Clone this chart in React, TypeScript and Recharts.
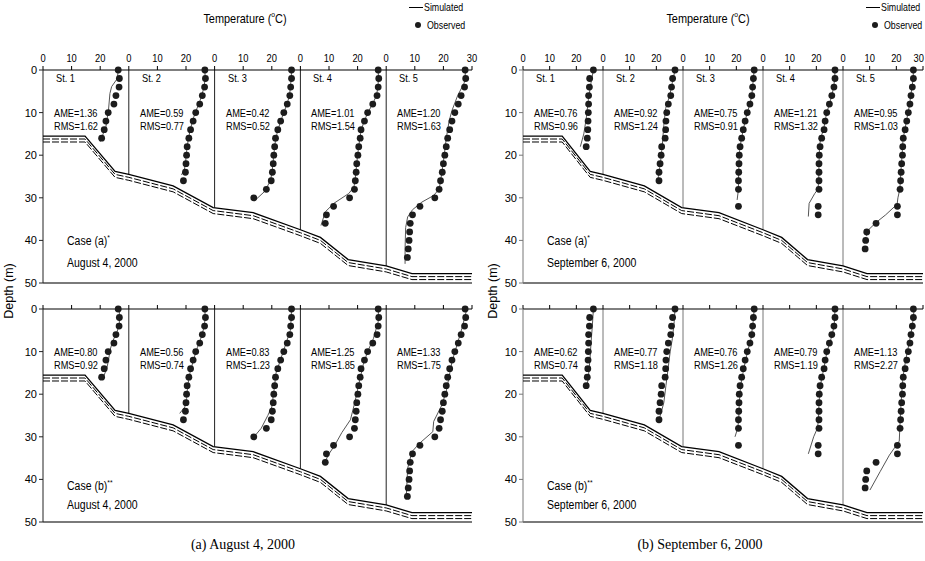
import { ReferenceLine, Scatter, ScatterChart, XAxis, YAxis } from 'recharts'

const FONT = "'Liberation Sans', Arial, sans-serif"
const SERIF = "'Liberation Serif', 'Times New Roman', serif"

// each station spans 0-30 degC on the shared top axis
const SPAN = 30
const stations = ['St. 1', 'St. 2', 'St. 3', 'St. 4', 'St. 5']
const tempTicks = [0, 10, 20, 30, 40, 50, 60, 70, 80, 90, 100, 110, 120, 130, 140, 150]
const depthTicks = [0, 10, 20, 30, 40, 50]

// bottom profile along the section (distance in axis units, depth m)
const bathyDist = [0, 14.7, 25.2, 30, 45.5, 59.5, 73.5, 90, 97, 106.7, 120, 129, 150]
const bathyDepth = [15.5, 15.5, 23.8, 24.5, 27.2, 32.3, 33.5, 37.5, 39.3, 44.5, 46, 47.8, 47.8]
const layerOffsets = [0, 0.7, 1.4]

const step = (n: number, last: number) => Array.from({ length: n }, (_, i) => i * (last / (n - 1)))

// ---- August 4, 2000 ----
const augObsDepth = [
  step(9, 16),
  step(14, 26),
  step(16, 30),
  step(19, 36),
  step(23, 44),
]
const augObsTemp = [
  [26.3, 26.7, 26.6, 25.5, 24.8, 22.8, 22.0, 21.4, 20.5],
  [26.6, 26.8, 26.5, 25.7, 24.8, 23.4, 22.5, 21.6, 21.0, 20.4, 20.2, 20.0, 19.8, 19.1],
  [26.9, 26.9, 26.6, 26.3, 25.4, 24.2, 23.1, 22.1, 21.3, 21.0, 20.7, 20.5, 20.2, 19.8, 18.1, 13.7],
  [27.2, 27.4, 27.2, 26.8, 25.3, 23.5, 22.4, 21.2, 20.9, 20.4, 20.1, 19.7, 19.5, 19.2, 18.9, 17.2, 11.6, 9.1, 8.7],
  [27.6, 27.8, 27.4, 26.2, 25.2, 24.0, 23.0, 22.2, 21.5, 21.0, 20.5, 20.0, 19.6, 19.0, 18.5, 17.0, 11.8, 9.2, 8.4, 8.2, 8.0, 7.7, 7.4],
]
// simulated [temp, depth]
const augSimA = [
  [[26.3, 0], [26.0, 2], [24.0, 3.9], [23.4, 5.5], [22.9, 9.4], [22.0, 13.3], [20.0, 16.8]],
  [[26.6, 0], [26.7, 2], [26.3, 4], [25.5, 6], [24.5, 8], [23.2, 10], [22.3, 12], [21.5, 14], [20.9, 16], [20.4, 18], [20.1, 20], [19.8, 22], [19.4, 23.5], [18.4, 24.6]],
  [[26.9, 0], [26.8, 2], [26.5, 4], [26.2, 6], [25.3, 8], [24.2, 10], [23.1, 12], [22.2, 14], [21.4, 16], [21.0, 18], [20.7, 20], [20.4, 22], [20.1, 24], [19.5, 26], [17.5, 28.5], [14.3, 30.5]],
  [[27.2, 0], [27.3, 2], [27.1, 4], [26.6, 6], [25.2, 8], [23.6, 10], [22.3, 12], [21.3, 14], [20.8, 16], [20.4, 18], [20.0, 20], [19.7, 22], [19.4, 24], [19.1, 26], [18.7, 27.5], [16.9, 29], [11.7, 31.3], [8.7, 33.3], [7.2, 36.5]],
  [[27.8, 0], [27.3, 3], [25.0, 6], [23.0, 9.5], [22.0, 12], [21.0, 16], [20.3, 20], [19.5, 24], [18.5, 28], [16.5, 29.5], [12.5, 31], [9.2, 32.8], [7.5, 34.5], [6.8, 37], [6.6, 42], [6.6, 45.5]],
]
const augSimB = [
  [[26.7, 0], [26.7, 3.7], [25.8, 5.5], [24.4, 7.5], [23.5, 9.5], [22.9, 12], [22.3, 14], [20.9, 16.3]],
  [[26.6, 0], [26.7, 2], [26.4, 4], [25.4, 6.5], [24.0, 9], [22.6, 12], [21.4, 15], [20.6, 18], [20.2, 21], [19.6, 23], [17.8, 24.5]],
  [[26.9, 0], [26.8, 2], [26.5, 5], [24.0, 10], [21.5, 15], [20.8, 19], [20.0, 23], [18.6, 25], [16.3, 28], [13.8, 30]],
  [[27.3, 0], [27.2, 3], [25.5, 7], [23.5, 10], [22.0, 13], [20.3, 18], [19.0, 22], [17.5, 26], [14.5, 29], [12.0, 32], [10.0, 34], [8.5, 36]],
  [[28.2, 0], [26.5, 4.5], [23.0, 12.4], [21.0, 19.3], [19.5, 22.5], [16.6, 26.4], [16.3, 28.8], [11.7, 31.5], [9.0, 33.5], [7.5, 37.4], [7.0, 44.4]],
]
const augAmeA = ['1.36', '0.59', '0.42', '1.01', '1.20']
const augRmsA = ['1.62', '0.77', '0.52', '1.54', '1.63']
const augAmeB = ['0.80', '0.56', '0.83', '1.25', '1.33']
const augRmsB = ['0.92', '0.74', '1.23', '1.85', '1.75']

// ---- September 6, 2000 ----
const sepObsDepth = [
  step(10, 18),
  step(14, 26),
  [...step(15, 28), 32],
  [...step(15, 28), 32, 34],
  [...step(15, 28), 32, 34, 36, 38, 40, 42],
]
const sepObsTemp = [
  [26.4, 25.0, 24.9, 24.6, 24.6, 24.5, 24.4, 24.3, 24.1, 23.7],
  [27.0, 26.1, 25.7, 25.4, 24.5, 23.9, 23.6, 23.5, 23.3, 22.0, 21.8, 21.4, 21.0, 21.0],
  [26.7, 26.4, 26.1, 25.8, 25.1, 24.1, 23.3, 22.6, 22.0, 21.4, 21.1, 21.0, 20.9, 20.8, 20.8, 20.8],
  [27.0, 27.0, 26.6, 25.8, 24.9, 23.9, 23.3, 22.9, 22.0, 21.4, 21.1, 21.0, 21.0, 21.0, 21.0, 20.7, 20.7],
  [26.4, 26.4, 26.0, 25.5, 25.1, 24.5, 23.9, 23.3, 22.6, 22.4, 22.3, 22.0, 21.8, 21.6, 21.4, 20.4, 20.4, 12.4, 8.9, 8.5, 8.3],
]
const sepSimA = [
  [[26.4, 0], [25.5, 3], [24.5, 7], [23.8, 11], [22.8, 15], [21.5, 18]],
  [[27.0, 0], [26.0, 3], [25.0, 6], [23.5, 9], [22.8, 13], [22.2, 18], [21.5, 22], [20.8, 25], [20.5, 26]],
  [[26.7, 0], [26.4, 2], [26.1, 4], [25.8, 6], [25.1, 8], [24.1, 10], [23.3, 12], [22.6, 14], [22.0, 16], [21.4, 18], [21.1, 20], [21.0, 22], [20.9, 24], [20.8, 26], [20.8, 28], [20.3, 30.5]],
  [[27.0, 0], [26.9, 2], [26.5, 4], [25.8, 6], [24.9, 8], [23.9, 10], [23.3, 12], [22.7, 14], [21.6, 16], [21.2, 18], [21.0, 22], [20.9, 26], [20.6, 28], [19.4, 29], [17.3, 31.3], [17.0, 34.4]],
  [[26.4, 0], [26.3, 2], [25.9, 4], [25.4, 6], [25.0, 8], [24.4, 10], [23.8, 12], [23.2, 14], [22.6, 16], [22.3, 18], [22.2, 20], [21.9, 22], [21.7, 24], [21.5, 26], [21.3, 28], [20.6, 30], [20.3, 31.5], [16.0, 34], [12.4, 35.8], [9.6, 37.5], [8.8, 39]],
]
const sepSimB = [
  [[26.4, 0], [26.0, 4], [25.5, 8], [25.1, 12], [24.5, 16], [23.9, 18.5]],
  [[27.0, 0], [26.7, 3], [26.0, 7], [25.2, 10], [24.4, 14], [23.6, 18], [22.8, 22], [21.5, 25], [20.5, 26.5]],
  [[26.7, 0], [26.3, 3], [25.5, 7], [24.2, 10], [22.8, 14], [21.6, 18], [21.1, 22], [20.9, 26], [20.5, 28], [19.5, 30]],
  [[27.0, 0], [26.7, 4], [25.5, 7], [24.0, 10], [22.8, 14], [21.5, 18], [21.0, 22], [20.8, 26], [20.4, 28], [19.0, 30], [17.0, 34]],
  [[26.7, 0], [26.0, 4], [24.8, 8], [23.5, 12], [22.5, 16], [22.0, 20], [21.6, 24], [21.3, 28], [21.1, 31], [17.4, 34.3], [13.9, 38.2], [10.1, 42.5]],
]
const sepAmeA = ['0.76', '0.92', '0.75', '1.21', '0.95']
const sepRmsA = ['0.96', '1.24', '0.91', '1.32', '1.03']
const sepAmeB = ['0.62', '0.77', '0.76', '0.79', '1.13']
const sepRmsB = ['0.74', '1.18', '1.26', '1.19', '2.27']

function depthAt(u: number) {
  for (let i = 1; i < bathyDist.length; i++) {
    if (u <= bathyDist[i]) {
      const f = (u - bathyDist[i - 1]) / (bathyDist[i] - bathyDist[i - 1])
      return bathyDepth[i - 1] + f * (bathyDepth[i] - bathyDepth[i - 1])
    }
  }
  return bathyDepth[bathyDepth.length - 1]
}

const obsDot = (p: any) => <circle cx={p.cx} cy={p.cy} r={3.4} fill="#1c1c1c" />
const noDot = () => <g />

// top tick labels repeat 0,10,20 per station; last one reads 30
function TopTick({ x, y, payload, showLabels, edge }: any) {
  if (!showLabels) return <g />
  const v = payload.value
  const last = v === 150
  return (
    <text
      x={last && edge ? x + 1 : x}
      y={y}
      textAnchor={last && edge ? 'end' : 'middle'}
      fontSize={11}
      fontFamily={FONT}
      fill="#000"
      transform={`translate(${x} ${y}) scale(0.85 1) translate(${-x} ${-y})`}
    >
      {last ? '30' : String(v % SPAN)}
    </text>
  )
}

type PanelProps = {
  left: number
  top: number
  width: number
  rightPad: number
  obsTemp: number[][]
  obsDepth: number[][]
  sim: number[][][]
  showLabels: boolean
  edge: boolean
  lineColor: string
}

function Panel({ left, top, width, rightPad, obsTemp, obsDepth, sim, showLabels, edge, lineColor }: PanelProps) {
  const obs = obsTemp.map((ts, s) => ts.map((t, i) => ({ x: s * SPAN + t, y: obsDepth[s][i] })))
  const simPts = sim.map((st, s) => st.map(([t, d]) => ({ x: s * SPAN + t, y: d })))
  const bathy = layerOffsets.map((off) => bathyDist.map((u, i) => ({ x: u, y: bathyDepth[i] + off })))

  return (
    <div style={{ position: 'absolute', left, top }}>
      <ScatterChart width={width} height={253} margin={{ top: 0, right: rightPad, bottom: 10, left: 0 }}>
        <XAxis
          type="number"
          dataKey="x"
          orientation="top"
          domain={[0, 150]}
          ticks={tempTicks}
          interval={0}
          height={30}
          tickSize={4}
          tickMargin={4}
          tick={<TopTick showLabels={showLabels} edge={edge} />}
          axisLine={{ stroke: '#000' }}
          tickLine={{ stroke: '#000' }}
        />
        <YAxis
          type="number"
          dataKey="y"
          domain={[0, 50]}
          reversed
          ticks={depthTicks}
          interval={0}
          width={43}
          tickSize={4}
          tick={{ fontSize: 11, fill: '#000', fontFamily: FONT }}
          axisLine={{ stroke: lineColor }}
          tickLine={{ stroke: lineColor }}
        />
        <ReferenceLine y={50} stroke="#7a7a7a" strokeWidth={2} />
        {[1, 2, 3, 4].map((s) => (
          <ReferenceLine
            key={'sep' + s}
            segment={[{ x: s * SPAN, y: 0 }, { x: s * SPAN, y: depthAt(s * SPAN) }]}
            stroke={lineColor}
          />
        ))}
        {bathy.map((pts, k) => (
          <Scatter
            key={'bathy' + k}
            data={pts}
            fill="none"
            line={{ stroke: '#000', strokeWidth: k === 0 ? 1.3 : 1, strokeDasharray: k === 0 ? undefined : '7 2' }}
            lineType="joint"
            shape={noDot}
            isAnimationActive={false}
          />
        ))}
        {simPts.map((pts, s) => (
          <Scatter
            key={'sim' + s}
            data={pts}
            fill="none"
            line={{ stroke: '#555', strokeWidth: 1 }}
            lineType="joint"
            shape={noDot}
            isAnimationActive={false}
          />
        ))}
        {obs.map((pts, s) => (
          <Scatter key={'obs' + s} data={pts} fill="#1c1c1c" shape={obsDot} isAnimationActive={false} />
        ))}
      </ScatterChart>
    </div>
  )
}

// narrow labels: regular sans squeezed horizontally
function Txt({ x, y, size = 11, children, family = FONT, center = false, squeeze = 0.84 }: any) {
  return (
    <div
      style={{
        position: 'absolute',
        left: x,
        top: y,
        transform: center
          ? `translate(-50%, -50%) scaleX(${squeeze})`
          : `translateY(-50%) scaleX(${squeeze})`,
        transformOrigin: center ? 'center' : 'left center',
        fontSize: size,
        fontFamily: family,
        lineHeight: 1,
        whiteSpace: 'nowrap',
        color: '#000',
      }}
    >
      {children}
    </div>
  )
}

function Column(props: {
  x0: number
  stationW: number
  width: number
  rightPad: number
  obsTemp: number[][]
  obsDepth: number[][]
  simA: number[][][]
  simB: number[][][]
  ameA: string[]
  rmsA: string[]
  ameB: string[]
  rmsB: string[]
  date: string
  titleX: number
  legendX: number
  depthX: number
  lineColor: string
  caption: string
  captionX: number
  edge: boolean
}) {
  const p = props
  const starts = stations.map((_, s) => p.x0 + 43 + s * p.stationW)
  return (
    <>
      <Panel left={p.x0} top={40} width={p.width} rightPad={p.rightPad} obsTemp={p.obsTemp} obsDepth={p.obsDepth} sim={p.simA} showLabels edge={p.edge} lineColor={p.lineColor} />
      <Panel left={p.x0} top={279} width={p.width} rightPad={p.rightPad} obsTemp={p.obsTemp} obsDepth={p.obsDepth} sim={p.simB} showLabels={false} edge={p.edge} lineColor={p.lineColor} />

      <Txt x={p.titleX} y={18} size={13} center>
        Temperature (<sup style={{ fontSize: 8 }}>o</sup>C)
      </Txt>
      <div style={{ position: 'absolute', left: p.legendX, top: 7, width: 14, borderTop: '1px solid #000' }} />
      <Txt x={p.legendX + 15} y={7} size={10.5}>Simulated</Txt>
      <div style={{ position: 'absolute', left: p.legendX + 6, top: 22, width: 6, height: 6, borderRadius: 3, background: '#1c1c1c' }} />
      <Txt x={p.legendX + 18} y={25} size={10.5}>Observed</Txt>

      <div
        style={{
          position: 'absolute',
          left: p.depthX,
          top: 291,
          transform: 'translate(-50%, -50%) rotate(-90deg)',
          fontSize: 12.5,
          fontFamily: FONT,
          whiteSpace: 'nowrap',
        }}
      >
        Depth (m)
      </div>

      {stations.map((name, s) => (
        <Txt key={'st' + s} x={starts[s] + 13} y={78}>{name}</Txt>
      ))}
      {stations.map((_, s) => (
        <div key={'a' + s}>
          <Txt x={starts[s] + 11} y={113}>AME={p.ameA[s]}</Txt>
          <Txt x={starts[s] + 11} y={126}>RMS={p.rmsA[s]}</Txt>
          <Txt x={starts[s] + 11} y={352}>AME={p.ameB[s]}</Txt>
          <Txt x={starts[s] + 11} y={365}>RMS={p.rmsB[s]}</Txt>
        </div>
      ))}

      <Txt x={p.x0 + 67} y={241} size={12.5}>Case (a)<sup style={{ fontSize: 8 }}>*</sup></Txt>
      <Txt x={p.x0 + 67} y={263} size={12.5}>{p.date}</Txt>
      <Txt x={p.x0 + 67} y={486} size={12.5}>Case (b)<sup style={{ fontSize: 8 }}>**</sup></Txt>
      <Txt x={p.x0 + 67} y={505} size={12.5}>{p.date}</Txt>

      <Txt x={p.captionX} y={545} size={14} family={SERIF} center squeeze={1}>{p.caption}</Txt>
    </>
  )
}

export default function App() {
  return (
    <div style={{ position: 'absolute', left: 0, top: 0, width: 925, height: 561, background: '#fff', overflow: 'hidden' }}>
      <Column
        x0={0}
        stationW={85.8}
        width={480}
        rightPad={8}
        obsTemp={augObsTemp}
        obsDepth={augObsDepth}
        simA={augSimA}
        simB={augSimB}
        ameA={augAmeA}
        rmsA={augRmsA}
        ameB={augAmeB}
        rmsB={augRmsB}
        date="August 4, 2000"
        titleX={245}
        legendX={409}
        depthX={9}
        lineColor="#222"
        caption="(a) August 4, 2000"
        captionX={243}
        edge={false}
      />
      <Column
        x0={480}
        stationW={80}
        width={445}
        rightPad={2}
        obsTemp={sepObsTemp}
        obsDepth={sepObsDepth}
        simA={sepSimA}
        simB={sepSimB}
        ameA={sepAmeA}
        rmsA={sepRmsA}
        ameB={sepAmeB}
        rmsB={sepRmsB}
        date="September 6, 2000"
        titleX={708}
        legendX={866}
        depthX={493}
        lineColor="#777"
        caption="(b) September 6, 2000"
        captionX={700}
        edge
      />
    </div>
  )
}
